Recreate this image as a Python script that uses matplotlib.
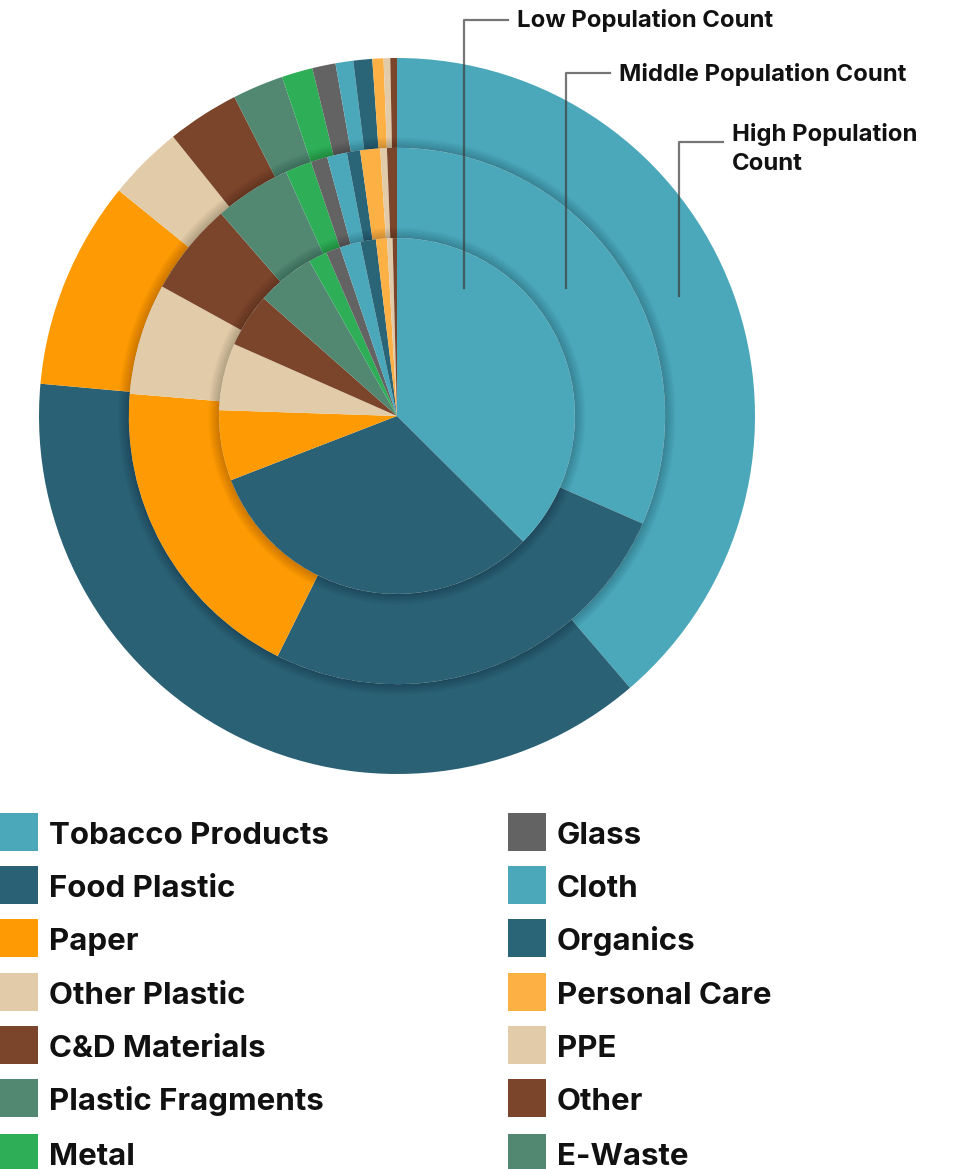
import matplotlib
matplotlib.use('Agg')
import matplotlib.pyplot as plt
from matplotlib.patches import Wedge, Rectangle

# categories (clockwise from top) and their colours
categories = ['Tobacco Products', 'Food Plastic', 'Paper', 'Other Plastic',
              'C&D Materials', 'Plastic Fragments', 'Metal', 'Glass', 'Cloth',
              'Organics', 'Personal Care', 'PPE', 'Other', 'E-Waste']
colors = ['#4BA8BA', '#2A6175', '#FD9A04', '#E2CBA8', '#7B452B', '#528872',
          '#2DAE57', '#636363', '#4BA8BA', '#2A6477', '#FDB044', '#E2CBA8',
          '#7B452B', '#528872']

# share (%) per population group
low_pop = [37.5, 31.7, 6.4, 6.1, 4.9, 5.3, 1.7, 1.3, 1.9, 1.4, 1.0, 0.5, 0.4, 0.0]
mid_pop = [31.6, 25.8, 19.0, 6.7, 5.6, 4.6, 1.6, 1.0, 1.2, 0.8, 1.2, 0.4, 0.6, 0.0]
high_pop = [38.7, 37.7, 9.4, 3.4, 3.25, 2.3, 1.4, 1.05, 0.8, 0.85, 0.5, 0.3, 0.3, 0.0]

ring_labels = ['Low Population Count', 'Middle Population Count', 'High Population\nCount']

plt.rcParams['font.family'] = ['Inter', 'DejaVu Sans']

W, H = 957, 1169
fig = plt.figure(figsize=(W / 100, H / 100), dpi=100)

cx, cy, R = 397, 416, 358
ax = fig.add_axes([(cx - R) / W, (H - cy - R) / H, 2 * R / W, 2 * R / H])

r_in, r_mid, r_out = 0.497, 0.749, 1.0
ax.pie(high_pop, radius=r_out, colors=colors, startangle=90, counterclock=False,
       wedgeprops=dict(width=r_out - r_mid, linewidth=0))
ax.pie(mid_pop, radius=r_mid, colors=colors, startangle=90, counterclock=False,
       wedgeprops=dict(width=r_mid - r_in, linewidth=0))
ax.pie(low_pop, radius=r_in, colors=colors, startangle=90, counterclock=False,
       wedgeprops=dict(linewidth=0))

# soft shadow cast outward by the inner rings
n = 12
for r0 in (r_in, r_mid):
    for i in range(n):
        w = 0.03 * (i + 1) / n
        ax.add_patch(Wedge((0, 0), r0 + w, 0, 360, width=w,
                           facecolor='black', alpha=0.014, linewidth=0))

ax.set_xlim(-1, 1)
ax.set_ylim(-1, 1)
ax.set_aspect('equal')
ax.axis('off')

# leader lines and ring labels (figure pixels)
line_x = [464, 566, 679]
line_bottom = [288, 288, 296]
line_top = [20, 73, 142]
text_y = [21, 74, 149]
for lx, lb, lt, ty, lab in zip(line_x, line_bottom, line_top, text_y, ring_labels):
    fig.add_artist(plt.Line2D([lx / W, lx / W, (lx + 44) / W],
                              [1 - lb / H, 1 - lt / H, 1 - lt / H],
                              transform=fig.transFigure, color='#3c3c3c',
                              alpha=0.7, linewidth=1.6))
    fig.text((lx + 53) / W, 1 - ty / H, lab, fontsize=17.2, fontweight='bold',
             va='center', ha='left', color='#111111', linespacing=1.45)

# legend: two columns of seven
row0, step, sq = 832, 53.2, 38
col_sq_x = [0, 508]
col_txt_x = [49, 557]
for k, (name, c) in enumerate(zip(categories, colors)):
    col, row = divmod(k, 7)
    yc = row0 + row * step + (2 if row == 6 else 0)
    fig.add_artist(Rectangle((col_sq_x[col] / W, 1 - (yc + sq / 2) / H), sq / W, sq / H,
                             transform=fig.transFigure, facecolor=c, linewidth=0))
    fig.text(col_txt_x[col] / W, 1 - (yc + 12) / H, name, fontsize=22.5, fontweight='bold',
             va='baseline', ha='left', color='#111111')

fig.savefig('out.png', dpi=100, facecolor='white')
